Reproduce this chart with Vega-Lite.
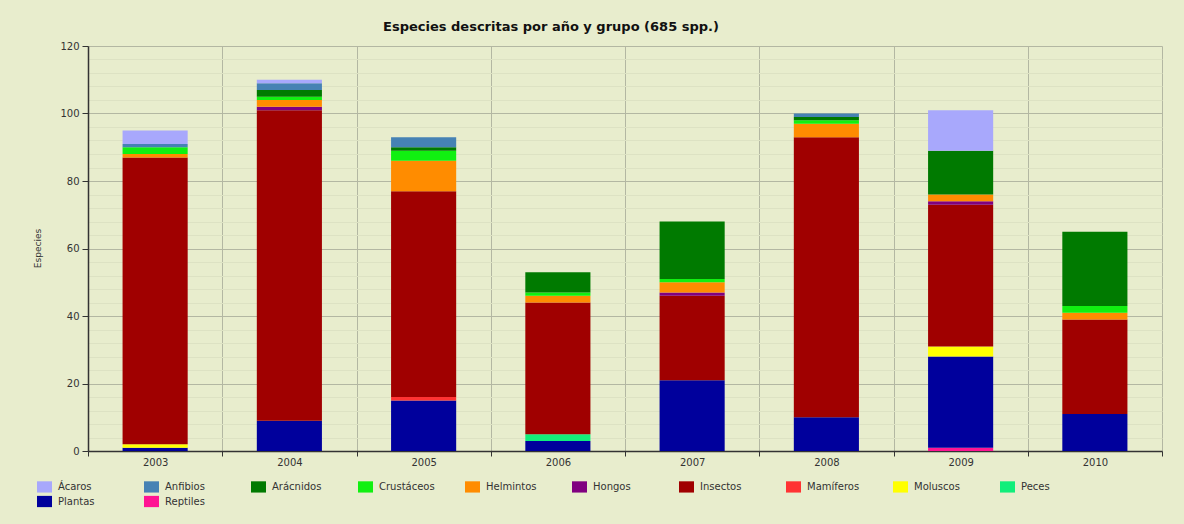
{
  "$schema": "https://vega.github.io/schema/vega-lite/v6.json",
  "width": 1074,
  "height": 405,
  "autosize": {"type": "none"},
  "padding": {"left": 88, "top": 46, "right": 22, "bottom": 73},
  "background": "#e8edcd",
  "title": {
    "text": "Especies descritas por año y grupo (685 spp.)",
    "font": "DejaVu Sans",
    "fontSize": 13,
    "fontWeight": "bold",
    "color": "#111111",
    "anchor": "middle",
    "dx": -74,
    "offset": 7
  },
  "config": {
    "view": {"stroke": null},
    "axis": {"labelFont": "DejaVu Sans", "labelFontSize": 10, "labelColor": "#333333", "titleFont": "DejaVu Sans", "titleColor": "#333333"}
  },
  "datasets": {
    "especies": [
      {"anio": "2003", "grupo": "Plantas", "n": 1},
      {"anio": "2003", "grupo": "Moluscos", "n": 1},
      {"anio": "2003", "grupo": "Insectos", "n": 85},
      {"anio": "2003", "grupo": "Helmintos", "n": 1},
      {"anio": "2003", "grupo": "Crustáceos", "n": 2},
      {"anio": "2003", "grupo": "Anfibios", "n": 1},
      {"anio": "2003", "grupo": "Ácaros", "n": 4},
      {"anio": "2004", "grupo": "Plantas", "n": 9},
      {"anio": "2004", "grupo": "Insectos", "n": 92},
      {"anio": "2004", "grupo": "Hongos", "n": 1},
      {"anio": "2004", "grupo": "Helmintos", "n": 2},
      {"anio": "2004", "grupo": "Crustáceos", "n": 1},
      {"anio": "2004", "grupo": "Arácnidos", "n": 2},
      {"anio": "2004", "grupo": "Anfibios", "n": 2},
      {"anio": "2004", "grupo": "Ácaros", "n": 1},
      {"anio": "2005", "grupo": "Plantas", "n": 15},
      {"anio": "2005", "grupo": "Mamíferos", "n": 1},
      {"anio": "2005", "grupo": "Insectos", "n": 61},
      {"anio": "2005", "grupo": "Helmintos", "n": 9},
      {"anio": "2005", "grupo": "Crustáceos", "n": 3},
      {"anio": "2005", "grupo": "Arácnidos", "n": 1},
      {"anio": "2005", "grupo": "Anfibios", "n": 3},
      {"anio": "2006", "grupo": "Plantas", "n": 3},
      {"anio": "2006", "grupo": "Peces", "n": 2},
      {"anio": "2006", "grupo": "Insectos", "n": 39},
      {"anio": "2006", "grupo": "Helmintos", "n": 2},
      {"anio": "2006", "grupo": "Crustáceos", "n": 1},
      {"anio": "2006", "grupo": "Arácnidos", "n": 6},
      {"anio": "2007", "grupo": "Plantas", "n": 21},
      {"anio": "2007", "grupo": "Insectos", "n": 25},
      {"anio": "2007", "grupo": "Hongos", "n": 1},
      {"anio": "2007", "grupo": "Helmintos", "n": 3},
      {"anio": "2007", "grupo": "Crustáceos", "n": 1},
      {"anio": "2007", "grupo": "Arácnidos", "n": 17},
      {"anio": "2008", "grupo": "Plantas", "n": 10},
      {"anio": "2008", "grupo": "Insectos", "n": 83},
      {"anio": "2008", "grupo": "Helmintos", "n": 4},
      {"anio": "2008", "grupo": "Crustáceos", "n": 1},
      {"anio": "2008", "grupo": "Arácnidos", "n": 1},
      {"anio": "2008", "grupo": "Anfibios", "n": 1},
      {"anio": "2009", "grupo": "Reptiles", "n": 1},
      {"anio": "2009", "grupo": "Plantas", "n": 27},
      {"anio": "2009", "grupo": "Moluscos", "n": 3},
      {"anio": "2009", "grupo": "Insectos", "n": 42},
      {"anio": "2009", "grupo": "Hongos", "n": 1},
      {"anio": "2009", "grupo": "Helmintos", "n": 2},
      {"anio": "2009", "grupo": "Arácnidos", "n": 13},
      {"anio": "2009", "grupo": "Ácaros", "n": 12},
      {"anio": "2010", "grupo": "Plantas", "n": 11},
      {"anio": "2010", "grupo": "Insectos", "n": 28},
      {"anio": "2010", "grupo": "Helmintos", "n": 2},
      {"anio": "2010", "grupo": "Crustáceos", "n": 2},
      {"anio": "2010", "grupo": "Arácnidos", "n": 22}
    ],
    "grupos": [
      {"grupo": "Ácaros", "orden": 1},
      {"grupo": "Anfibios", "orden": 2},
      {"grupo": "Arácnidos", "orden": 3},
      {"grupo": "Crustáceos", "orden": 4},
      {"grupo": "Helmintos", "orden": 5},
      {"grupo": "Hongos", "orden": 6},
      {"grupo": "Insectos", "orden": 7},
      {"grupo": "Mamíferos", "orden": 8},
      {"grupo": "Moluscos", "orden": 9},
      {"grupo": "Peces", "orden": 10},
      {"grupo": "Plantas", "orden": 11},
      {"grupo": "Reptiles", "orden": 12}
    ]
  },
  "layer": [
    {
      "data": {"values": [{}]},
      "mark": {"type": "rule", "strokeOpacity": 0},
      "encoding": {
        "y": {
          "datum": 0,
          "type": "quantitative",
          "axis": {
            "orient": "left",
            "values": [4, 8, 12, 16, 24, 28, 32, 36, 44, 48, 52, 56, 64, 68, 72, 76, 84, 88, 92, 96, 104, 108, 112, 116],
            "grid": true,
            "gridColor": "#dde2c3",
            "gridWidth": 1,
            "labels": false,
            "ticks": false,
            "domain": false,
            "title": null
          }
        }
      }
    },
    {
      "data": {"name": "especies"},
      "transform": [
        {"lookup": "grupo", "from": {"data": {"name": "grupos"}, "key": "grupo", "fields": ["orden"]}}
      ],
      "mark": {"type": "bar", "width": {"band": 0.485}},
      "encoding": {
        "x": {
          "field": "anio",
          "type": "nominal",
          "scale": {"paddingInner": 0, "paddingOuter": 0},
          "axis": {
            "title": null,
            "labelAngle": 0,
            "tickBand": "extent",
            "grid": true,
            "gridColor": "#b3b7a2",
            "tickColor": "#333333",
            "tickSize": 5,
            "domainColor": "#333333",
            "domainWidth": 1.5,
            "labelPadding": 1
          }
        },
        "y": {
          "field": "n",
          "type": "quantitative",
          "stack": "zero",
          "scale": {"domain": [0, 120], "nice": false},
          "axis": {
            "orient": "left",
            "title": "Especies",
            "values": [0, 20, 40, 60, 80, 100, 120],
            "grid": true,
            "gridColor": "#b3b7a2",
            "tickColor": "#333333",
            "tickSize": 6,
            "domainColor": "#333333",
            "domainWidth": 1.5,
            "labelPadding": 3,
            "titleFontSize": 9,
            "titleFontWeight": "normal",
            "titleAngle": -90,
            "titleX": -51,
            "titleY": 202,
            "titleAlign": "center",
            "titleBaseline": "middle"
          }
        },
        "color": {
          "field": "grupo",
          "type": "nominal",
          "scale": {
            "domain": ["Ácaros", "Anfibios", "Arácnidos", "Crustáceos", "Helmintos", "Hongos", "Insectos", "Mamíferos", "Moluscos", "Peces", "Plantas", "Reptiles"],
            "range": ["#a8a8fc", "#4682b4", "#007a00", "#11f011", "#ff8c00", "#800080", "#a00000", "#ff3333", "#ffff00", "#11ee7a", "#00009c", "#ff1493"]
          },
          "legend": {
            "title": null,
            "orient": "none",
            "legendX": -51,
            "legendY": 433,
            "direction": "horizontal",
            "columns": 10,
            "gridAlign": "all",
            "columnPadding": 30,
            "rowPadding": 1,
            "symbolType": "M-1,-0.75H1V0.75H-1Z",
            "symbolSize": 225,
            "symbolStrokeWidth": 0,
            "labelFont": "DejaVu Sans",
            "labelFontSize": 10,
            "labelColor": "#333333",
            "labelOffset": 6,
            "padding": 0
          }
        },
        "order": {"field": "orden", "type": "quantitative", "sort": "descending"}
      }
    }
  ],
  "resolve": {"axis": {"y": "independent"}}
}
